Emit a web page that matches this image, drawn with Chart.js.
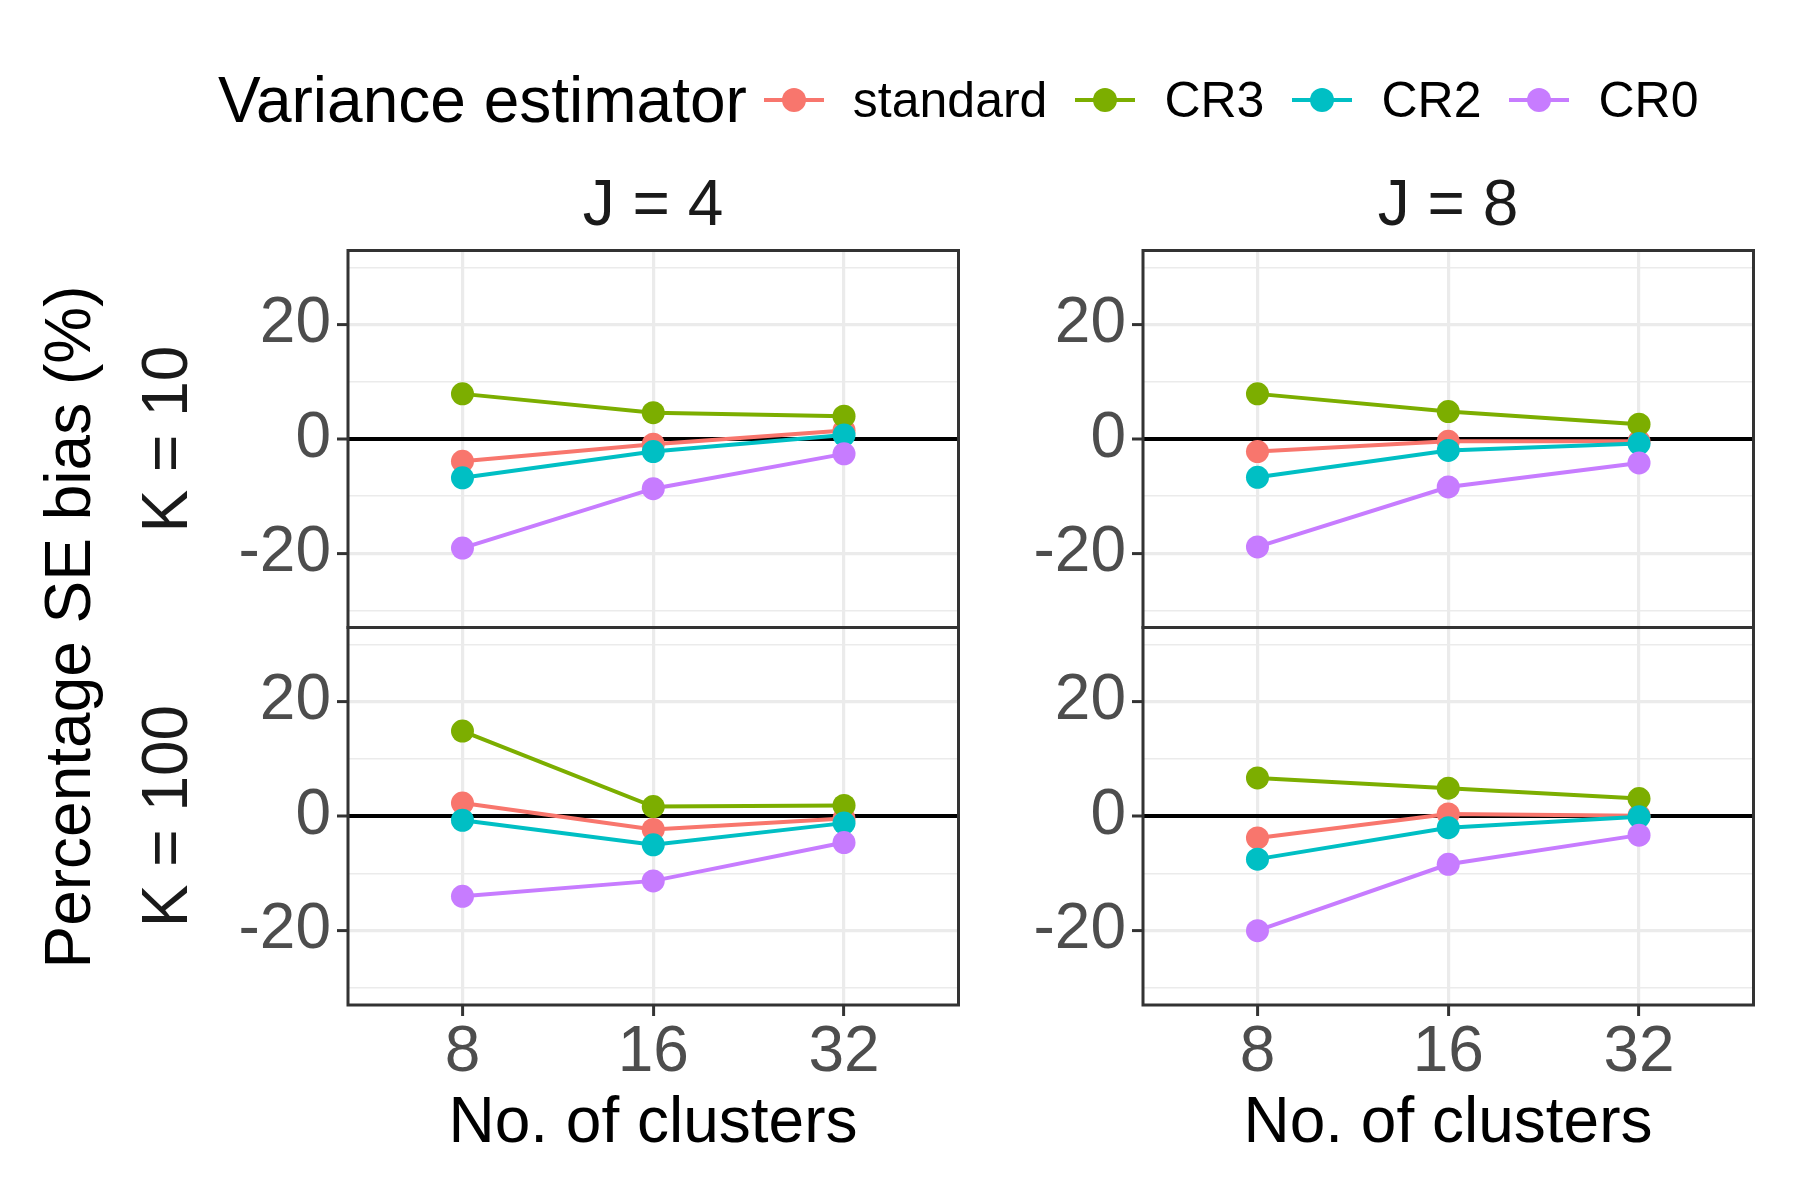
<!DOCTYPE html>
<html>
<head>
<meta charset="utf-8">
<script src="https://cdn.jsdelivr.net/npm/chart.js@4.4.1/dist/chart.umd.min.js"></script>
<style>
  body { margin: 0; background: #fff; }
  #wrap { position: relative; width: 1800px; height: 1200px; overflow: hidden;
          font-family: "Liberation Sans", Arial, sans-serif; }
  canvas { position: absolute; }
  .txt { position: absolute; white-space: nowrap; line-height: 1; transform: translate(-50%, -50%); }
  .rot { transform: translate(-50%, -50%) rotate(-90deg); }
  #legend { position: absolute; left: 218px; top: 100px; transform: translateY(-50%);
            display: flex; align-items: center; white-space: nowrap; line-height: 1; }
  .key { position: relative; width: 60px; height: 24px; }
  .key .ln { position: absolute; left: 0; right: 0; top: 10px; height: 4px; }
  .key .pt { position: absolute; left: 18px; top: 0; width: 24px; height: 24px; border-radius: 50%; }
</style>
</head>
<body>
<div id="wrap">
  <div id="legend"></div>
</div>
<script>
// Data
const clusters = ['8', '16', '32'];
const estimators = ['standard', 'CR3', 'CR2', 'CR0'];
const colors = ['#F8766D', '#7CAE00', '#00BFC4', '#C77CFF'];
const yTicks = [-30, -20, -10, 0, 10, 20, 30];
const yLabels = [-20, 0, 20];
const colTitles = ['J = 4', 'J = 8'];
const rowTitles = ['K = 10', 'K = 100'];

// one row per estimator (standard, CR3, CR2, CR0), one value per cluster count
const j4k10 = [[-3.9, -0.9, 1.5], [7.9, 4.6, 4.0], [-6.8, -2.2, 0.7], [-19.1, -8.7, -2.6]];
const j8k10 = [[-2.2, -0.4, -0.4], [7.9, 4.8, 2.6], [-6.7, -2.0, -0.8], [-18.9, -8.4, -4.2]];
const j4k100 = [[2.3, -2.3, -0.4], [14.9, 1.7, 1.9], [-0.7, -5.0, -1.2], [-14.0, -11.3, -4.6]];
const j8k100 = [[-3.8, 0.4, 0.1], [6.7, 4.9, 3.1], [-7.5, -2.0, -0.1], [-20.0, -8.4, -3.3]];

// Layout
const FONT = '"Liberation Sans", Arial, sans-serif';
const PANEL_W = 610, PANEL_H = 377;
const colLeft = [348, 1143];
const rowTop = [250, 627];
const YW = 120;   // width of y axis (labels + ticks)
const PAD = 6;
const XH = 100;   // height of x axis on the bottom row

const wrap = document.getElementById('wrap');

// Ram runt panelen, ritas över data som i ggplot
const framePlugin = {
  id: 'frame',
  afterDatasetsDraw(chart) {
    const a = chart.chartArea, ctx = chart.ctx;
    ctx.save();
    ctx.strokeStyle = '#333333';
    ctx.lineWidth = 3;
    ctx.strokeRect(a.left, a.top, a.right - a.left, a.bottom - a.top);
    ctx.restore();
  }
};

function makePanel(col, row, values) {
  const bottom = row === 1;
  const canvas = document.createElement('canvas');
  const w = YW + PANEL_W + PAD;
  const h = PAD + PANEL_H + (bottom ? XH : PAD);
  canvas.width = w; canvas.height = h;
  wrap.appendChild(canvas);

  const chart = new Chart(canvas.getContext('2d'), {
    type: 'line',
    data: {
      datasets: estimators.map((name, k) => ({
        label: name,
        data: values[k].map((v, i) => ({ x: i, y: v })),
        borderColor: colors[k],
        backgroundColor: colors[k],
        borderWidth: 4,
        pointRadius: 11.5,
        pointHoverRadius: 11.5,
        pointBorderWidth: 0,
        order: estimators.length - k
      }))
    },
    options: {
      responsive: false,
      maintainAspectRatio: false,
      animation: false,
      devicePixelRatio: 1,
      layout: { padding: { top: PAD, right: PAD, bottom: 0, left: 0 } },
      plugins: { legend: { display: false }, tooltip: { enabled: false } },
      scales: {
        x: {
          type: 'linear', min: -0.6, max: 2.6,
          afterBuildTicks: s => { s.ticks = clusters.map((_, i) => ({ value: i })); },
          afterFit: s => { s.height = bottom ? XH : PAD; s.paddingLeft = 0; s.paddingRight = 0; },
          ticks: {
            display: bottom, autoSkip: false, maxRotation: 0, padding: 5,
            callback: v => clusters[v],
            color: '#4D4D4D', font: { family: FONT, size: 64, lineHeight: 1 }
          },
          grid: { color: '#EBEBEB', lineWidth: 3.2, drawTicks: bottom, tickLength: 11, tickColor: '#333333', tickWidth: 3 },
          border: { display: false }
        },
        y: {
          type: 'linear', min: -33, max: 33,
          afterBuildTicks: s => { s.ticks = yTicks.map(v => ({ value: v })); },
          afterFit: s => { s.width = YW; s.paddingTop = 0; s.paddingBottom = 0; },
          ticks: {
            autoSkip: false, padding: 6,
            callback: v => yLabels.includes(v) ? String(v) : '',
            color: '#4D4D4D', font: { family: FONT, size: 64, lineHeight: 1 }
          },
          grid: {
            color: c => c.tick.value === 0 ? '#000000' : '#EBEBEB',
            lineWidth: c => c.tick.value === 0 ? 4 : (yLabels.includes(c.tick.value) ? 3.2 : 1.6),
            tickLength: 11,
            tickColor: c => yLabels.includes(c.tick.value) ? '#333333' : 'rgba(0,0,0,0)',
            tickWidth: 3
          },
          border: { display: false }
        }
      }
    },
    plugins: [framePlugin]
  });

  // Justera canvasstorleken så att panelytan blir exakt PANEL_W x PANEL_H
  const a = chart.chartArea;
  const dw = Math.round(PANEL_W - (a.right - a.left));
  const dh = Math.round(PANEL_H - (a.bottom - a.top));
  if (dw !== 0 || dh !== 0) chart.resize(w + dw, h + dh);
  const b = chart.chartArea;
  canvas.style.left = (colLeft[col] - b.left) + 'px';
  canvas.style.top = (rowTop[row] - b.top) + 'px';
}

makePanel(0, 0, j4k10);
makePanel(1, 0, j8k10);
makePanel(0, 1, j4k100);
makePanel(1, 1, j8k100);

// Texter
function addText(str, x, y, size, color, rotate) {
  const d = document.createElement('div');
  d.className = 'txt' + (rotate ? ' rot' : '');
  d.textContent = str;
  d.style.left = x + 'px';
  d.style.top = y + 'px';
  d.style.fontSize = size + 'px';
  d.style.color = color;
  wrap.appendChild(d);
}

colTitles.forEach((t, c) => addText(t, colLeft[c] + PANEL_W / 2, 203, 64, '#1A1A1A'));
rowTitles.forEach((t, r) => addText(t, 165, rowTop[r] + PANEL_H / 2, 64, '#1A1A1A', true));
addText('Percentage SE bias (%)', 68, rowTop[0] + PANEL_H, 64, '#000000', true);
colLeft.forEach(x => addText('No. of clusters', x + PANEL_W / 2, 1120, 64, '#000000'));

// Legend
const legend = document.getElementById('legend');
const title = document.createElement('span');
title.textContent = 'Variance estimator';
title.style.fontSize = '64px';
title.style.marginRight = '17px';
legend.appendChild(title);
estimators.forEach((name, k) => {
  const key = document.createElement('div');
  key.className = 'key';
  key.innerHTML = `<div class="ln" style="background:${colors[k]}"></div><div class="pt" style="background:${colors[k]}"></div>`;
  key.style.marginRight = '29px';
  legend.appendChild(key);
  const lab = document.createElement('span');
  lab.textContent = name;
  lab.style.fontSize = '50px';
  lab.style.marginRight = '28px';
  legend.appendChild(lab);
});
</script>
</body>
</html>
